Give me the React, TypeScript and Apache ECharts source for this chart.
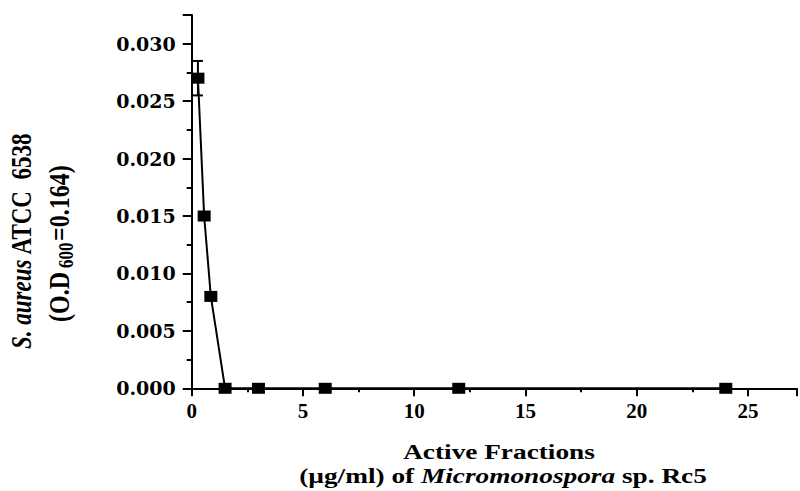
import React, { useEffect, useRef } from "react";
import * as echarts from "echarts";

const concentrations = [0.28, 0.56, 0.86, 1.5, 3, 6, 12, 24];
const odValues = [0.027, 0.015, 0.008, 0, 0, 0, 0, 0];
const errorBars = [[0.28, 0.0255, 0.0285]];
const xTitle1 = "Active Fractions";
const yTitleSpecies = "S. aureus";
const yTitleStrain = "ATCC  6538";

const SERIF = "'Liberation Serif', 'Times New Roman', serif";
const WIDE = "'DejaVu Serif', serif";

export default function App() {
  const ref = useRef<HTMLDivElement>(null);
  useEffect(() => {
    if (!ref.current) return;
    const chart = echarts.init(ref.current, null, { renderer: "svg" });
    const isMultiple = (v: number, step: number) =>
      Math.abs(v / step - Math.round(v / step)) < 1e-6;
    const bold24 = { fontFamily: SERIF, fontWeight: "bold", fontSize: 24, fill: "#000", verticalAlign: "middle", align: "left" };
    chart.setOption({
      animation: false,
      backgroundColor: "#ffffff",
      grid: { left: 191.7, right: 0, top: 15, bottom: 102.7, containLabel: false },
      xAxis: {
        type: "value",
        min: 0,
        max: 27.2,
        interval: 5,
        axisLine: { show: true, onZero: false, lineStyle: { color: "#000", width: 2 } },
        axisTick: { show: true, inside: false, length: 8, lineStyle: { color: "#000", width: 2 } },
        minorTick: { show: true, splitNumber: 2, length: 4, lineStyle: { color: "#000", width: 2 } },
        splitLine: { show: false },
        axisLabel: {
          margin: 12,
          color: "#000",
          fontFamily: SERIF,
          fontWeight: "bold",
          fontSize: 21,
          formatter: (v: number) => (isMultiple(v, 5) ? String(v) : ""),
        },
      },
      yAxis: {
        type: "value",
        min: 0,
        max: 0.0325,
        interval: 0.005,
        axisLine: { show: true, onZero: false, lineStyle: { color: "#000", width: 2 } },
        axisTick: { show: true, inside: false, length: 9, lineStyle: { color: "#000", width: 2 } },
        minorTick: { show: true, splitNumber: 2, length: 5, lineStyle: { color: "#000", width: 2 } },
        splitLine: { show: false },
        axisLabel: {
          margin: 16,
          color: "#000",
          fontFamily: WIDE,
          fontWeight: "bold",
          fontSize: 19,
          formatter: (v: number) => (isMultiple(v, 0.005) ? v.toFixed(3) : ""),
        },
      },
      series: [
        {
          type: "custom",
          z: 1,
          data: errorBars,
          renderItem: (params: any, api: any) => {
            const x = api.value(0);
            const lo = api.coord([x, api.value(1)]);
            const hi = api.coord([x, api.value(2)]);
            const cap = 5;
            const st = { stroke: "#000", lineWidth: 2 };
            return {
              type: "group",
              children: [
                { type: "line", shape: { x1: lo[0], y1: lo[1], x2: hi[0], y2: hi[1] }, style: st },
                { type: "line", shape: { x1: hi[0] - cap, y1: hi[1], x2: hi[0] + cap, y2: hi[1] }, style: st },
                { type: "line", shape: { x1: lo[0] - cap, y1: lo[1], x2: lo[0] + cap, y2: lo[1] }, style: st },
              ],
            };
          },
        },
        {
          type: "line",
          z: 2,
          data: concentrations.map((c, i) => [c, odValues[i]]),
          symbol: "rect",
          symbolSize: [13, 11],
          showSymbol: true,
          lineStyle: { color: "#000", width: 2 },
          itemStyle: { color: "#000" },
        },
      ],
      graphic: [
        {
          type: "text",
          x: 499,
          y: 452,
          scaleX: 1.3,
          style: {
            text: xTitle1,
            fontFamily: SERIF,
            fontWeight: "bold",
            fontSize: 21,
            fill: "#000",
            align: "center",
            verticalAlign: "middle",
          },
        },
        {
          type: "text",
          x: 503,
          y: 476,
          scaleX: 1.3,
          style: {
            text: "(µg/ml) of {i|Micromonospora} sp. Rc5",
            fontFamily: SERIF,
            fontWeight: "bold",
            fontSize: 21,
            fill: "#000",
            align: "center",
            verticalAlign: "middle",
            rich: {
              i: { fontFamily: SERIF, fontWeight: "bold", fontStyle: "italic", fontSize: 21, fill: "#000" },
            },
          },
        },
        {
          type: "text",
          x: 22,
          y: 241,
          rotation: Math.PI / 2,
          scaleY: 1.25,
          style: {
            text: "{i|" + yTitleSpecies + "} " + yTitleStrain,
            fontFamily: SERIF,
            fontWeight: "bold",
            fontSize: 23,
            fill: "#000",
            align: "center",
            verticalAlign: "middle",
            rich: {
              i: { fontFamily: SERIF, fontWeight: "bold", fontStyle: "italic", fontSize: 23, fill: "#000" },
            },
          },
        },
        {
          type: "group",
          x: 59,
          y: 243,
          rotation: Math.PI / 2,
          scaleY: 1.2,
          children: [
            { type: "text", x: -79, y: 0, style: { ...bold24, text: "(O.D" } },
            { type: "text", x: -25, y: 6, style: { ...bold24, fontSize: 17, text: "600" } },
            { type: "text", x: 2, y: 0, style: { ...bold24, text: "=0.164)" } },
          ],
        },
      ],
    });
    return () => chart.dispose();
  }, []);
  return <div ref={ref} style={{ position: "fixed", left: 0, top: 0, width: 800, height: 491 }} />;
}
